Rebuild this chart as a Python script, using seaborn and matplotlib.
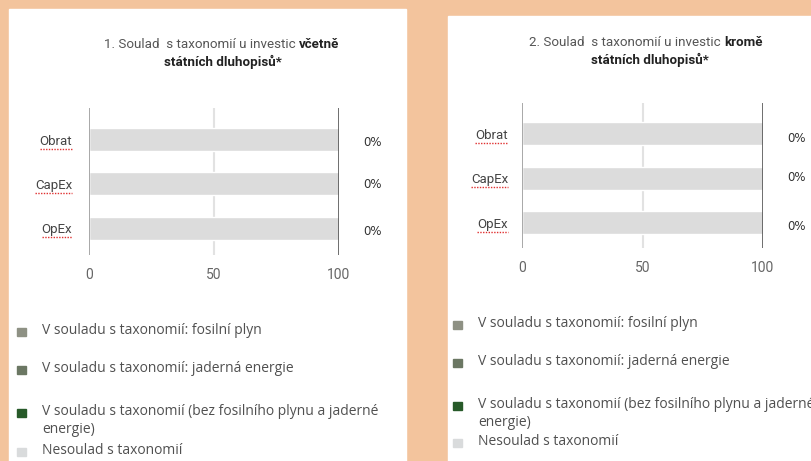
import matplotlib
matplotlib.use("Agg")
import matplotlib.pyplot as plt
from matplotlib.patches import Rectangle
import seaborn as sns
import pandas as pd

sns.set_style("white")
plt.rcParams["font.family"] = ["Roboto", "DejaVu Sans"]

# data
categories = ["Obrat", "CapEx", "OpEx"]
aligned_pct = [0, 0, 0]          # podíl v souladu s taxonomií (%)
not_aligned = [100, 100, 100]    # nesoulad s taxonomií
value_labels = [f"{v}%" for v in aligned_pct]
x_ticks = [0, 50, 100]

titles = [
    ("1. Soulad  s taxonomií u investic ", "včetně", "státních dluhopisů*"),
    ("2. Soulad  s taxonomií u investic ", "kromě", "státních dluhopisů*"),
]
legend_labels = [
    "V souladu s taxonomií: fosilní plyn",
    "V souladu s taxonomií: jaderná energie",
    "V souladu s taxonomií (bez fosilního plynu a jaderné\nenergie)",
    "Nesoulad s taxonomií",
]
legend_colors = ["#8e9184", "#6b7763", "#275a29", "#d9dbdc"]

BG = "#f3c49d"
BAR = "#dcdcdc"
W, H = 811, 461

fig = plt.figure(figsize=(W / 100, H / 100), dpi=100, facecolor=BG)

# overlay in pixel coordinates for panels, titles, legend
over = fig.add_axes([0, 0, 1, 1], zorder=0)
over.set_xlim(0, W)
over.set_ylim(H, 0)
over.axis("off")
over.patch.set_alpha(0)
over.add_patch(Rectangle((9, 9), 397, 460, color="white"))
over.add_patch(Rectangle((448, 16), 370, 460, color="white"))

panels = [
    dict(box=(89, 339, 108, 255), ylim=(2.6, -0.71), split=299, tcx=223, ty=(45, 62),
         lx=17, lys=(332, 370, 413, 452), pct_x=113.5, pct_dy=(0.06, 0.01, 0.08), ypad=9, lpad=12),
    dict(box=(522, 763, 103, 248), ylim=(2.57, -0.69), split=724, tcx=650, ty=(42, 60),
         lx=453, lys=(325, 363, 406, 443), pct_x=114, pct_dy=(0.1, -0.02, 0.08), ypad=9, lpad=10),
]

df = pd.DataFrame({"kategorie": categories, "nesoulad": not_aligned, "soulad": aligned_pct})

bar_axes = []
for p, (t_norm, t_bold, t_line2) in zip(panels, titles):
    x0, x1, yt, yb = p["box"]
    ax = fig.add_axes([x0 / W, 1 - yb / H, (x1 - x0) / W, (yb - yt) / H], zorder=2)
    ax.patch.set_alpha(0)
    ax.axvline(50, color="#e2e2e2", lw=1.5, zorder=0)
    sns.barplot(data=df, y="kategorie", x="nesoulad", orient="h", color=BAR,
                width=0.52, saturation=1, ax=ax, zorder=2)
    sns.barplot(data=df, y="kategorie", x="soulad", orient="h", color=legend_colors[2],
                width=0.52, saturation=1, ax=ax, zorder=3)
    ax.axvline(0, color="#9a9a9a", lw=1.2, zorder=4)
    ax.axvline(100, color="#555555", lw=1.2, zorder=4)
    ax.set_xlim(0, 100)
    ax.set_ylim(*p["ylim"])
    ax.set_xticks(x_ticks)
    ax.set_xticklabels([str(t) for t in x_ticks])
    ax.tick_params(axis="x", length=0, pad=p["ypad"], labelsize=10, labelcolor="#666666")
    ax.tick_params(axis="y", length=0, pad=p["lpad"], labelsize=9.5, labelcolor="#444444")
    ax.set_xlabel("")
    ax.set_ylabel("")
    sns.despine(ax=ax, left=True, bottom=True)
    for i, lab in enumerate(value_labels):
        ax.text(p["pct_x"], i + p["pct_dy"][i], lab, ha="center", va="center",
                fontsize=8.5, color="#333333", family=["DejaVu Sans"], clip_on=False)
    bar_axes.append(ax)

    # title
    over.text(p["split"], p["ty"][0], t_norm, ha="right", va="center",
              fontsize=9.6, color="#555555")
    over.text(p["split"], p["ty"][0], t_bold, ha="left", va="center",
              fontsize=9.6, color="#222222", fontweight="bold")
    over.text(p["tcx"], p["ty"][1], t_line2, ha="center", va="center",
              fontsize=9.6, color="#222222", fontweight="bold")

    # legend
    for lab, col, ly in zip(legend_labels, legend_colors, p["lys"]):
        over.add_patch(Rectangle((p["lx"], ly - 4), 9, 8, color=col))
        over.text(p["lx"] + 25, ly - 9, lab, ha="left", va="top", fontsize=10,
                  color="#505050", family=["Open Sans", "DejaVu Sans"], linespacing=1.25)

# red spell-check underline below the category labels
fig.canvas.draw()
inv = over.transData.inverted()
for ax in bar_axes:
    for tl in ax.get_yticklabels():
        bb = tl.get_window_extent()
        (lx0, ly0), (lx1, _) = inv.transform([(bb.x0, bb.y0), (bb.x1, bb.y1)])
        over.plot([lx0, lx1], [ly0 + 1, ly0 + 1], color="#e03030", lw=1,
                  linestyle=(0, (1, 1)), zorder=5)

fig.savefig("out.png", dpi=100, facecolor=BG)
